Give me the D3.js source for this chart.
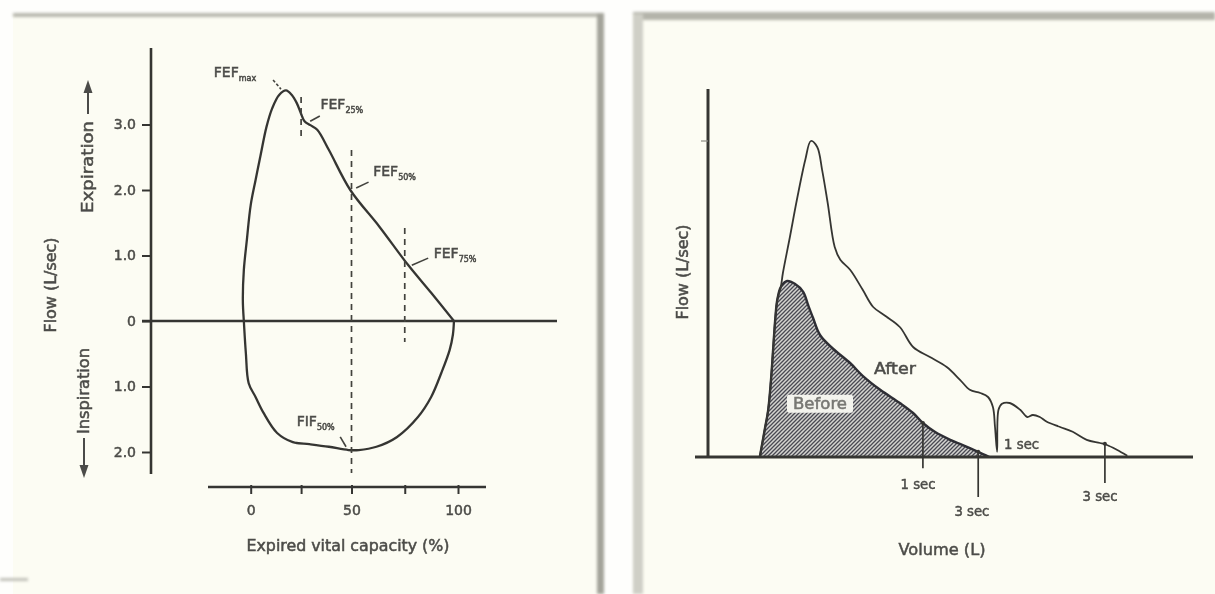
<!DOCTYPE html>
<html><head><meta charset="utf-8">
<script src="https://cdn.jsdelivr.net/npm/d3@7"></script>
<style>
html,body{margin:0;padding:0;background:#fff;}
svg{display:block;}
text{stroke:#4c4c48;stroke-width:0.5px;}
</style></head><body>
<svg id="c" width="1215" height="594"></svg>
<script>
// ===== Left panel: flow-volume loop (x = expired vital capacity %, y = flow L/sec) =====
const loopExpVC   = [-3.4, -3.9, -3.4, -1.9, 0, 2.4, 4.9, 7.8, 10.7, 14.1, 17.5, 20.4, 22.8, 24.8, 26.7, 29.6, 33.0, 38.8, 49.4, 63.1, 76.7, 87.4, 98.1];
const loopExpFlow = [0, 0.32, 0.78, 1.24, 1.77, 2.15, 2.53, 2.96, 3.25, 3.45, 3.52, 3.45, 3.33, 3.18, 3.05, 2.99, 2.92, 2.61, 2.00, 1.44, 0.85, 0.43, 0];
const loopInspVC   = [98.1, 97.6, 96.1, 92.2, 87.4, 81.1, 71.4, 61.7, 53.4, 48.5, 38.8, 29.1, 20.9, 13.1, 6.3, 2.4, -1.0, -2.4, -3.4];
const loopInspFlow = [0, -0.21, -0.44, -0.79, -1.16, -1.47, -1.77, -1.92, -1.97, -1.97, -1.92, -1.88, -1.85, -1.71, -1.40, -1.16, -0.95, -0.49, 0];

const leftYTicks      = [3, 2, 1, 0, -1, -2];
const leftYTickLabels = ["3.0", "2.0", "1.0", "0", "1.0", "2.0"];
const leftXTicks      = [0, 25, 50, 75, 100];
const leftXTickLabels = ["0", "", "50", "", "100"];

// dashed marker lines (vital capacity %, flow top, flow bottom)
const markerVC      = [25, 50, 75];
const markerTop     = [3.42, 2.61, 1.42];
const markerBottom  = [2.76, -2.32, -0.32];

// annotations: main text, subscript, text anchor point, leader from -> to (data units)
const annoMain = ["FEF", "FEF", "FEF", "FEF", "FIF"];
const annoSub  = ["max", "25%", "50%", "75%", "50%"];
const annoVC   = [-18.3, 34.6, 60.2, 88.6, 22.8];
const annoFlow = [3.80, 3.31, 2.29, 1.04, -1.53];
const leadFromVC   = [11.1, 34.3, 58.0, 86.0, 44.4];
const leadFromFlow = [3.68, 3.13, 2.12, 0.96, -1.77];
const leadToVC     = [15.0, 29.5, 52.2, 78.3, 47.3];
const leadToFlow   = [3.54, 3.05, 2.03, 0.85, -1.92];

// ===== Right panel: flow-volume curves before / after (x = volume L, y = flow L/sec) =====
const beforeVol  = [0.74, 0.81, 0.86, 0.90, 0.93, 0.96, 0.99, 1.04, 1.13, 1.24, 1.36, 1.43, 1.50, 1.60, 1.79, 2.03, 2.21, 2.46, 2.74, 2.93, 3.07, 3.24, 3.46, 3.69, 3.86, 4.02];
const beforeFlow = [0, 0.68, 1.18, 1.93, 2.68, 3.43, 3.93, 4.25, 4.40, 4.33, 4.13, 3.80, 3.48, 3.05, 2.70, 2.35, 2.03, 1.68, 1.35, 1.10, 0.85, 0.63, 0.43, 0.26, 0.13, 0];
const afterVol  = [0.74, 0.81, 0.86, 0.90, 0.93, 0.96, 0.99, 1.04, 1.07, 1.17, 1.27, 1.39, 1.47, 1.56, 1.63, 1.71, 1.81, 1.89, 2.03, 2.21, 2.36, 2.53, 2.74, 2.93, 3.17, 3.41, 3.60, 3.74, 3.89, 4.00, 4.07, 4.10, 4.13, 4.15, 4.20, 4.31, 4.46, 4.56, 4.64, 4.74, 4.84, 5.03, 5.21, 5.41, 5.60, 5.70, 5.84, 5.99];
const afterFlow = [0, 0.68, 1.18, 1.93, 2.68, 3.43, 3.93, 4.25, 4.60, 5.50, 6.43, 7.43, 7.90, 7.75, 7.18, 6.35, 5.25, 4.93, 4.68, 4.18, 3.75, 3.53, 3.25, 2.75, 2.50, 2.25, 1.93, 1.68, 1.60, 1.50, 1.25, 0.75, 0.13, 1.18, 1.33, 1.35, 1.18, 1.00, 1.05, 1.00, 0.88, 0.75, 0.63, 0.43, 0.35, 0.30, 0.18, 0.03];
const afterPeakFlow = 7.9;

// timed markers: label, volume, flow at curve, flow at tick end, label position
const timeLabels   = ["1 sec", "3 sec", "1 sec", "3 sec"];
const timeVol      = [3.07, 3.86, 4.13, 5.67];
const timeFlowTop  = [0.85, 0.13, null, 0.33];
const timeFlowEnd  = [-0.28, -1.0, null, -0.65];
const timeLabelVol = [3.0, 3.77, 4.23, 5.6];
const timeLabelFlow= [-0.68, -1.35, 0.33, -0.98];
const timeAnchor   = ["middle", "middle", "start", "middle"];

const afterLabel  = {text: "After",  vol: 2.67, flow: 2.23};
const beforeLabel = {text: "Before", vol: 1.60, flow: 1.33};

// ===================== drawing =====================
const FONT = "'DejaVu Sans', 'Liberation Sans', sans-serif";
const INK = "#363633", TXT = "#4c4c48";
const svg = d3.select("#c");
const defs = svg.append("defs");
defs.append("filter").attr("id", "blur").attr("x", "-50%").attr("y", "-50%").attr("width", "200%").attr("height", "200%")
  .append("feGaussianBlur").attr("stdDeviation", 1.4);
defs.append("filter").attr("id", "soft").append("feGaussianBlur").attr("stdDeviation", 0.4);
const pat = defs.append("pattern").attr("id", "hatch").attr("patternUnits", "userSpaceOnUse").attr("width", 4).attr("height", 4);
pat.append("rect").attr("width", 4).attr("height", 4).attr("fill", "#d4d4d0");
pat.append("path").attr("d", "M-1,1 l2,-2 M0,4 l4,-4 M3,5 l2,-2").attr("stroke", "#4a4a52").attr("stroke-width", 1.3);

// paper
svg.append("rect").attr("width", 1215).attr("height", 594).attr("fill", "#fefefc");
svg.append("rect").attr("x", 13).attr("y", 14).attr("width", 590).attr("height", 580).attr("fill", "#fcfcf3");
svg.append("rect").attr("x", 633).attr("y", 14).attr("width", 582).attr("height", 580).attr("fill", "#fcfcf3");
// scan borders
const bord = svg.append("g").attr("filter", "url(#blur)");
bord.append("rect").attr("x", 13).attr("y", 13).attr("width", 590).attr("height", 4).attr("fill", "#b8b8af");
bord.append("rect").attr("x", 597).attr("y", 13).attr("width", 7).attr("height", 581).attr("fill", "#a3a39a");
bord.append("rect").attr("x", 633).attr("y", 12).attr("width", 582).attr("height", 8).attr("fill", "#b4b4aa");
bord.append("rect").attr("x", 633).attr("y", 14).attr("width", 10).attr("height", 580).attr("fill", "#cfcfc6");
bord.append("rect").attr("x", 0).attr("y", 578).attr("width", 28).attr("height", 3).attr("fill", "#c0c0b8");

const main = svg.append("g").attr("filter", "url(#soft)");

// ---------- left panel ----------
const xL = d3.scaleLinear().domain([0, 50, 100]).range([250.7, 351.5, 458]);
const yL = d3.scaleLinear().domain([-2, 3]).range([452, 124.5]);
const L = main.append("g");

// y axis
const yAxG = L.append("g").attr("transform", "translate(151,0)")
  .call(d3.axisLeft(yL).tickValues(leftYTicks).tickFormat((d, i) => leftYTickLabels[i]).tickSize(9).tickPadding(6));
yAxG.select(".domain").remove();
yAxG.attr("font-family", FONT).attr("font-size", 14);
yAxG.selectAll("line").attr("stroke", INK).attr("stroke-width", 2);
yAxG.selectAll("text").attr("fill", TXT);
L.append("line").attr("x1", 151).attr("x2", 151).attr("y1", 48).attr("y2", 474).attr("stroke", INK).attr("stroke-width", 2.6);
// zero line
L.append("line").attr("x1", 142).attr("x2", 557).attr("y1", yL(0)).attr("y2", yL(0)).attr("stroke", INK).attr("stroke-width", 2.4);

// x axis
const xAxG = L.append("g").attr("transform", "translate(0,487)")
  .call(d3.axisBottom(xL).tickValues(leftXTicks).tickFormat((d, i) => leftXTickLabels[i]).tickSize(7).tickPadding(11));
xAxG.select(".domain").remove();
xAxG.attr("font-family", FONT).attr("font-size", 14);
xAxG.selectAll("line").attr("stroke", INK).attr("stroke-width", 2).attr("y1", -2);
xAxG.selectAll("text").attr("fill", TXT);
L.append("line").attr("x1", 208).attr("x2", 486).attr("y1", 487).attr("y2", 487).attr("stroke", INK).attr("stroke-width", 2.6);

// axis titles
L.append("text").attr("x", 348).attr("y", 551).attr("text-anchor", "middle").attr("font-family", FONT).attr("font-size", 15)
  .attr("fill", TXT).attr("textLength", 203).attr("lengthAdjust", "spacingAndGlyphs").text("Expired vital capacity (%)");
L.append("text").attr("transform", "translate(56,285) rotate(-90)").attr("text-anchor", "middle").attr("font-family", FONT)
  .attr("font-size", 15).attr("fill", TXT).attr("textLength", 95).attr("lengthAdjust", "spacingAndGlyphs").text("Flow (L/sec)");
L.append("text").attr("transform", "translate(93,167) rotate(-90)").attr("text-anchor", "middle").attr("font-family", FONT)
  .attr("font-size", 15).attr("fill", TXT).attr("textLength", 92).attr("lengthAdjust", "spacingAndGlyphs").text("Expiration");
L.append("text").attr("transform", "translate(89,391) rotate(-90)").attr("text-anchor", "middle").attr("font-family", FONT)
  .attr("font-size", 15).attr("fill", TXT).attr("textLength", 86).attr("lengthAdjust", "spacingAndGlyphs").text("Inspiration");
// arrows
L.append("line").attr("x1", 88).attr("x2", 88).attr("y1", 114).attr("y2", 92).attr("stroke", TXT).attr("stroke-width", 2);
L.append("path").attr("d", "M88,80 L92.5,93 L83.5,93 Z").attr("fill", TXT);
L.append("line").attr("x1", 84).attr("x2", 84).attr("y1", 438).attr("y2", 465).attr("stroke", TXT).attr("stroke-width", 2);
L.append("path").attr("d", "M84,478 L88.5,465 L79.5,465 Z").attr("fill", TXT);

// loop
const lineL = d3.line().x(d => xL(d[0])).y(d => yL(d[1])).curve(d3.curveCatmullRom.alpha(0.5));
L.append("path").attr("d", lineL(loopExpVC.map((v, i) => [v, loopExpFlow[i]])))
  .attr("fill", "none").attr("stroke", INK).attr("stroke-width", 2.3);
L.append("path").attr("d", lineL(loopInspVC.map((v, i) => [v, loopInspFlow[i]])))
  .attr("fill", "none").attr("stroke", INK).attr("stroke-width", 2.3);

// dashed markers
markerVC.forEach((v, i) => {
  L.append("line").attr("x1", xL(v)).attr("x2", xL(v)).attr("y1", yL(markerTop[i])).attr("y2", yL(markerBottom[i]))
    .attr("stroke", "#42423d").attr("stroke-width", 1.7).attr("stroke-dasharray", "6,5");
});

// annotations
annoMain.forEach((m, i) => {
  const t = L.append("text").attr("x", xL(annoVC[i])).attr("y", yL(annoFlow[i]) + 5)
    .attr("font-family", FONT).attr("font-size", 14).attr("fill", TXT);
  t.append("tspan").text(m);
  t.append("tspan").attr("font-size", 8).attr("dy", 4).text(annoSub[i]);
  L.append("line").attr("x1", xL(leadFromVC[i])).attr("y1", yL(leadFromFlow[i]))
    .attr("x2", xL(leadToVC[i])).attr("y2", yL(leadToFlow[i]))
    .attr("stroke", "#42423d").attr("stroke-width", 1.6).attr("stroke-dasharray", i === 0 ? "3,2" : null);
});

// ---------- right panel ----------
const xR = d3.scaleLinear().domain([0, 7]).range([708, 1198]);
const yR = d3.scaleLinear().domain([0, 9.2]).range([457, 89]);
const R = main.append("g");

const areaB = d3.area().x(d => xR(d[0])).y0(yR(0)).y1(d => yR(d[1])).curve(d3.curveCatmullRom.alpha(0.5));
const lineR = d3.line().x(d => xR(d[0])).y(d => yR(d[1])).curve(d3.curveCatmullRom.alpha(0.5));
const bData = beforeVol.map((v, i) => [v, beforeFlow[i]]);
const aData = afterVol.map((v, i) => [v, afterFlow[i]]);

R.append("path").attr("d", areaB(bData)).attr("fill", "url(#hatch)");
R.append("path").attr("d", lineR(bData)).attr("fill", "none").attr("stroke", "#2e2e34").attr("stroke-width", 2.4);
R.append("path").attr("d", lineR(aData)).attr("fill", "none").attr("stroke", INK).attr("stroke-width", 1.8);

// axes
R.append("line").attr("x1", xR(0)).attr("x2", xR(0)).attr("y1", yR(9.2)).attr("y2", yR(0) + 1).attr("stroke", INK).attr("stroke-width", 3);
R.append("line").attr("x1", xR(0) - 13).attr("x2", 1193).attr("y1", yR(0)).attr("y2", yR(0)).attr("stroke", INK).attr("stroke-width", 3);
R.append("line").attr("x1", xR(0) - 7).attr("x2", xR(0)).attr("y1", yR(afterPeakFlow)).attr("y2", yR(afterPeakFlow))
  .attr("stroke", "#8a8a84").attr("stroke-width", 1.2);

// timed markers
timeLabels.forEach((lab, i) => {
  if (timeFlowTop[i] !== null) {
    R.append("line").attr("x1", xR(timeVol[i])).attr("x2", xR(timeVol[i]))
      .attr("y1", yR(timeFlowTop[i])).attr("y2", yR(timeFlowEnd[i])).attr("stroke", INK).attr("stroke-width", 1.7);
    R.append("circle").attr("cx", xR(timeVol[i])).attr("cy", yR(timeFlowTop[i])).attr("r", 2).attr("fill", INK);
  }
  R.append("text").attr("x", xR(timeLabelVol[i])).attr("y", yR(timeLabelFlow[i]) + 5).attr("text-anchor", timeAnchor[i])
    .attr("font-family", FONT).attr("font-size", 14).attr("fill", TXT).attr("textLength", 35).attr("lengthAdjust", "spacingAndGlyphs").text(lab);
});

// labels
R.append("text").attr("x", xR(afterLabel.vol)).attr("y", yR(afterLabel.flow) + 6).attr("text-anchor", "middle")
  .attr("font-family", FONT).attr("font-size", 16).attr("fill", TXT).attr("textLength", 42).attr("lengthAdjust", "spacingAndGlyphs").text(afterLabel.text);
R.append("rect").attr("x", xR(beforeLabel.vol) - 33).attr("y", yR(beforeLabel.flow) - 9).attr("width", 66).attr("height", 18)
  .attr("fill", "#f4f4ee").attr("rx", 2);
R.append("text").attr("x", xR(beforeLabel.vol)).attr("y", yR(beforeLabel.flow) + 5).attr("text-anchor", "middle")
  .attr("font-family", FONT).attr("font-size", 15).attr("fill", "#777773").style("stroke", "#777773").attr("textLength", 54).attr("lengthAdjust", "spacingAndGlyphs").text(beforeLabel.text);

R.append("text").attr("transform", "translate(688,272) rotate(-90)").attr("text-anchor", "middle").attr("font-family", FONT)
  .attr("font-size", 15).attr("fill", TXT).attr("textLength", 95).attr("lengthAdjust", "spacingAndGlyphs").text("Flow (L/sec)");
R.append("text").attr("x", 942).attr("y", 555).attr("text-anchor", "middle").attr("font-family", FONT)
  .attr("font-size", 16).attr("fill", TXT).attr("textLength", 87).attr("lengthAdjust", "spacingAndGlyphs").text("Volume (L)");
</script>
</body></html>
